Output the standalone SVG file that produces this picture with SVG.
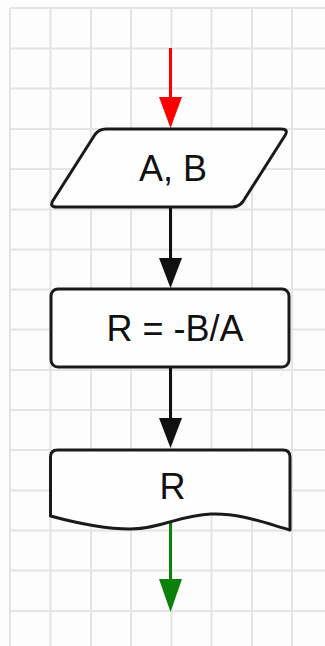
<svg xmlns="http://www.w3.org/2000/svg" width="325" height="646" viewBox="0 0 325 646">
<style>
.grid line{stroke:#e4e4e4;stroke-width:2}
.shape{fill:#fefefe;stroke:#1a1a1a;stroke-width:3;stroke-linejoin:round}
.lbl{font-family:"Liberation Sans",Arial,sans-serif;font-size:36px;fill:#111;text-anchor:middle}
.edge{fill:none;stroke-width:3}
</style>
<rect width="325" height="646" fill="#fdfdfd"/>
<g class="grid">
<line x1="10" y1="8" x2="10" y2="646"/>
<line x1="50.5" y1="8" x2="50.5" y2="646"/>
<line x1="91" y1="8" x2="91" y2="646"/>
<line x1="131" y1="8" x2="131" y2="646"/>
<line x1="171.5" y1="8" x2="171.5" y2="646"/>
<line x1="211.5" y1="8" x2="211.5" y2="646"/>
<line x1="252" y1="8" x2="252" y2="646"/>
<line x1="292" y1="8" x2="292" y2="646"/>
<line x1="10" y1="8" x2="325" y2="8"/>
<line x1="10" y1="48.5" x2="325" y2="48.5"/>
<line x1="10" y1="88.5" x2="325" y2="88.5"/>
<line x1="10" y1="129" x2="325" y2="129"/>
<line x1="10" y1="169" x2="325" y2="169"/>
<line x1="10" y1="209.5" x2="325" y2="209.5"/>
<line x1="10" y1="249.5" x2="325" y2="249.5"/>
<line x1="10" y1="289.5" x2="325" y2="289.5"/>
<line x1="10" y1="329.5" x2="325" y2="329.5"/>
<line x1="10" y1="370" x2="325" y2="370"/>
<line x1="10" y1="410" x2="325" y2="410"/>
<line x1="10" y1="450" x2="325" y2="450"/>
<line x1="10" y1="490.5" x2="325" y2="490.5"/>
<line x1="10" y1="530.5" x2="325" y2="530.5"/>
<line x1="10" y1="570.5" x2="325" y2="570.5"/>
<line x1="10" y1="611" x2="325" y2="611"/>
</g>
<g id="connectors">
<line class="edge" x1="170.5" y1="48" x2="170.5" y2="100" stroke="#ff0000"/>
<polygon points="159,97 182,97 170.5,128" fill="#ff0000"/>
<line class="edge" x1="170.5" y1="207" x2="170.5" y2="262" stroke="#111"/>
<polygon points="159,258 182,258 170.5,288" fill="#111"/>
<line class="edge" x1="170.5" y1="367" x2="170.5" y2="422" stroke="#111"/>
<polygon points="159,418 182,418 170.5,448" fill="#111"/>
<line class="edge" x1="170.5" y1="522" x2="170.5" y2="583" stroke="#0b800b"/>
<polygon points="159,579 182,579 170.5,612" fill="#0b800b"/>
</g>
<g id="node-input">
<path class="shape" d="M106,129 L281,129 Q289,129 285,135.5 L243,201.5 Q239,207 232,207 L57,207 Q49,207 53,200.5 L95,134.5 Q99,129 106,129 Z"/>
<text class="lbl" x="173" y="181">A, B</text>
</g>
<g id="node-process">
<rect class="shape" x="51" y="289" width="238" height="78" rx="7"/>
<text class="lbl" x="175" y="341">R = -B/A</text>
</g>
<g id="node-output">
<path class="shape" d="M50.5,457 Q50.5,450 57.5,450 L283,450 Q290,450 290,457 L290,530 C265,523 240,513 211,514 C180,515 160,529 130,529 C105,529 80,524 50.5,516 Z"/>
<text class="lbl" x="172.5" y="499">R</text>
</g>
</svg>
